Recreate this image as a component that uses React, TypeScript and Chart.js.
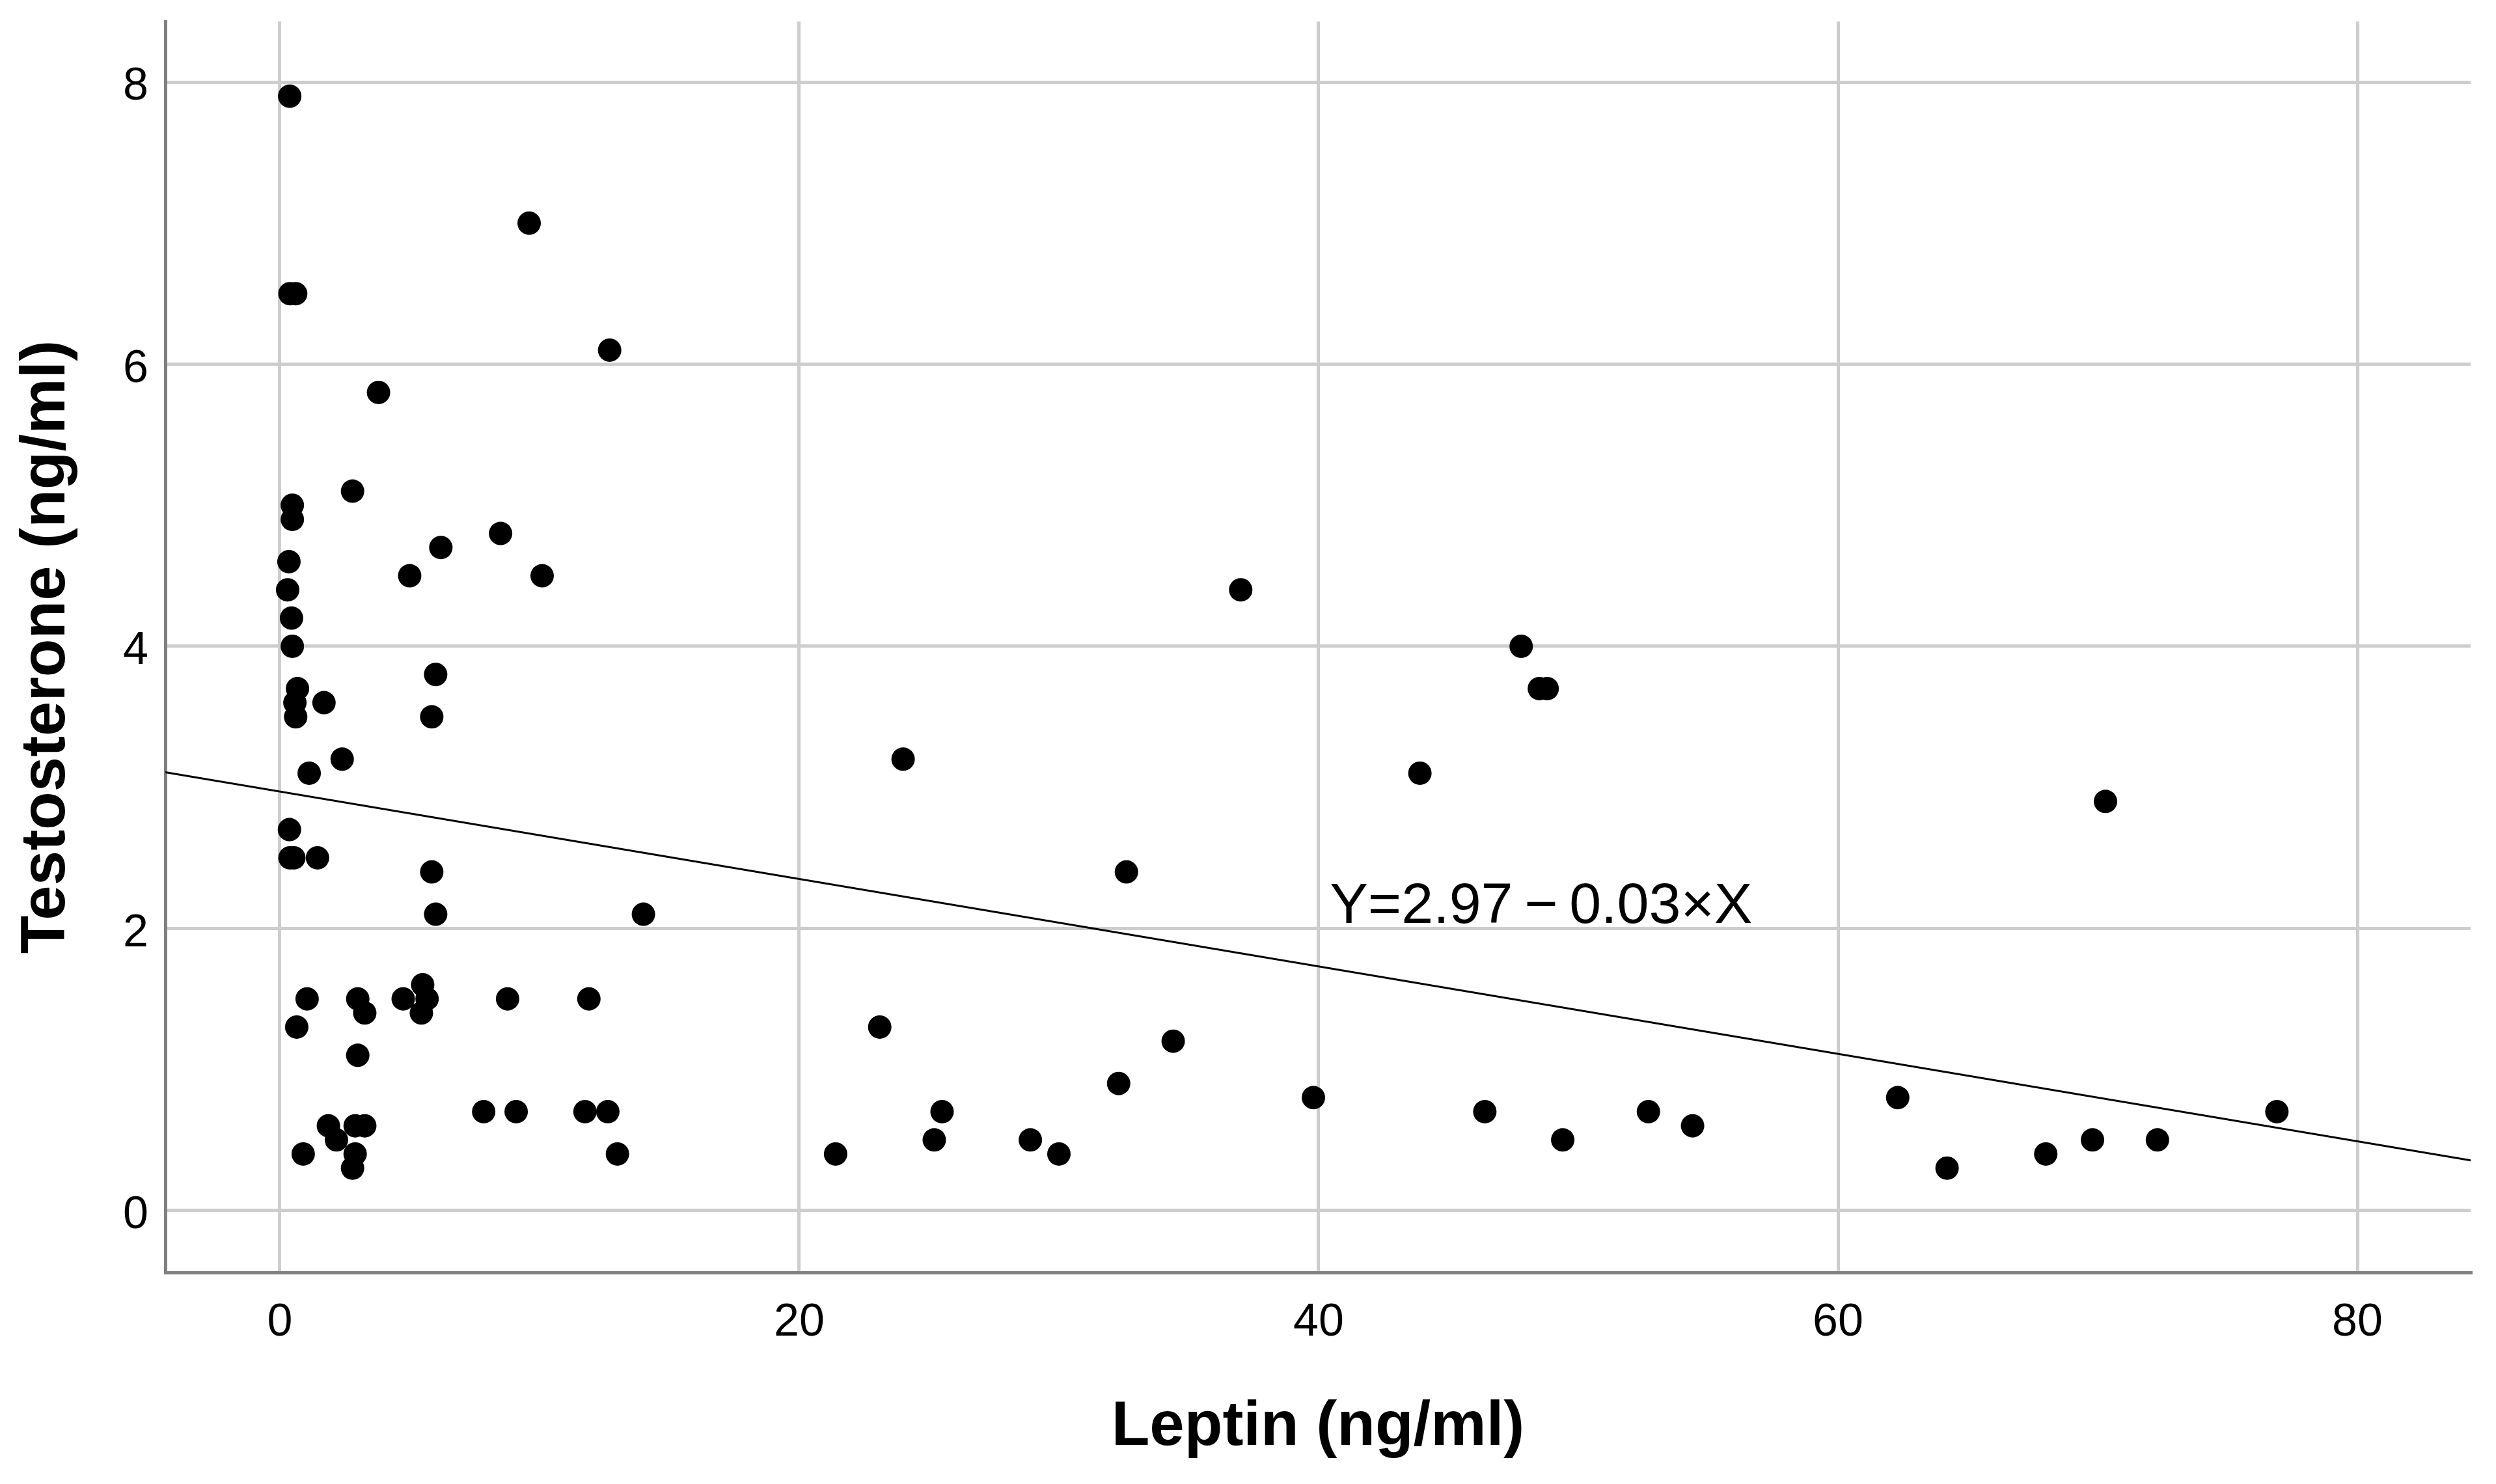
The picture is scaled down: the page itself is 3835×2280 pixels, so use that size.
import React, { useEffect, useRef } from 'react';
import { Chart, registerables } from 'chart.js';

Chart.register(...registerables);

// Leptin (ng/ml) values, x
const leptin: number[] = [
  0.38, 0.39, 0.61, 9.6, 12.7, 3.8, 2.8, 0.48, 0.48, 6.2,
  8.5, 5.0, 10.1, 0.35, 0.3, 0.45, 0.48, 6.0, 0.68, 0.58,
  0.61, 1.7, 5.85, 2.4, 1.13, 0.37, 0.39, 0.54, 1.45, 5.85,
  6.0, 14.0, 1.05, 0.65, 3.0, 3.27, 4.75, 5.5, 5.67, 5.45,
  8.77, 11.9, 3.0, 7.85, 9.1, 11.75, 12.63, 13.0, 1.87, 2.18,
  2.9, 3.27, 0.9, 2.9, 2.8,
  21.4, 23.1, 24.0, 25.2, 25.5, 28.9, 30.0, 32.3, 32.6, 34.4,
  37.0, 39.8, 43.9, 46.4, 47.8, 48.5, 48.8, 49.4, 52.7, 54.4,
  62.3, 64.2, 68.0, 69.8, 70.3, 72.3, 76.9,
];

// Testosterone (ng/ml) values, y
const testosterone: number[] = [
  7.9, 6.5, 6.5, 7.0, 6.1, 5.8, 5.1, 5.0, 4.9, 4.7,
  4.8, 4.5, 4.5, 4.6, 4.4, 4.2, 4.0, 3.8, 3.7, 3.6,
  3.5, 3.6, 3.5, 3.2, 3.1, 2.7, 2.5, 2.5, 2.5, 2.4,
  2.1, 2.1, 1.5, 1.3, 1.5, 1.4, 1.5, 1.6, 1.5, 1.4,
  1.5, 1.5, 1.1, 0.7, 0.7, 0.7, 0.7, 0.4, 0.6, 0.5,
  0.6, 0.6, 0.4, 0.4, 0.3,
  0.4, 1.3, 3.2, 0.5, 0.7, 0.5, 0.4, 0.9, 2.4, 1.2,
  4.4, 0.8, 3.1, 0.7, 4.0, 3.7, 3.7, 0.5, 0.7, 0.6,
  0.8, 0.3, 0.4, 0.5, 2.9, 0.5, 0.7,
];

const xTickValues: number[] = [0, 20, 40, 60, 80];
const yTickValues: number[] = [0, 2, 4, 6, 8];

const xAxisMin = -4.41;
const xAxisMax = 84.36;
const yAxisMin = -0.44;
const yAxisMax = 8.43;

const fitIntercept = 2.97;
const fitSlope = -0.031;

const xTitle = 'Leptin (ng/ml)';
const yTitle = 'Testosterone (ng/ml)';
const equationText = 'Y=2.97\u2009\u2212\u20090.03\u00d7X';
const equationAt = { x: 40.43, y: 2.04 };

const W = 3835;
const H = 2280;

const equationPlugin = {
  id: 'equationLabel',
  afterDatasetsDraw(chart: any) {
    const { ctx, scales } = chart;
    const px = scales.x.getPixelForValue(equationAt.x);
    const py = scales.y.getPixelForValue(equationAt.y);
    ctx.save();
    ctx.font = '88px "Liberation Sans", Arial, sans-serif';
    ctx.fillStyle = '#000000';
    ctx.textAlign = 'left';
    ctx.textBaseline = 'alphabetic';
    ctx.fillText(equationText, px, py);
    ctx.restore();
  },
};

const zeroPadding = (scale: any) => {
  scale.paddingTop = 0;
  scale.paddingBottom = 0;
  scale.paddingLeft = 0;
  scale.paddingRight = 0;
};

export default function App() {
  const canvasRef = useRef<HTMLCanvasElement | null>(null);

  useEffect(() => {
    const canvas = canvasRef.current;
    if (!canvas) return;

    const points = leptin.map((x, i) => ({ x, y: testosterone[i] }));
    const fitLine = [
      { x: xAxisMin, y: fitIntercept + fitSlope * xAxisMin },
      { x: xAxisMax, y: fitIntercept + fitSlope * xAxisMax },
    ];

    const chart = new Chart(canvas, {
      type: 'scatter',
      data: {
        datasets: [
          {
            type: 'line',
            data: fitLine,
            borderColor: '#000000',
            borderWidth: 3,
            pointRadius: 0,
            fill: false,
            order: 2,
          } as any,
          {
            type: 'scatter',
            data: points,
            backgroundColor: '#000000',
            borderColor: '#000000',
            borderWidth: 0,
            pointRadius: 18,
            pointHoverRadius: 18,
            order: 1,
          } as any,
        ],
      },
      options: {
        animation: false,
        responsive: false,
        devicePixelRatio: 1,
        events: [],
        layout: { autoPadding: false, padding: { left: 0, top: 33, right: 39, bottom: 0 } },
        plugins: {
          legend: { display: false },
          tooltip: { enabled: false },
        },
        scales: {
          x: {
            type: 'linear',
            min: xAxisMin,
            max: xAxisMax,
            afterBuildTicks: (scale: any) => {
              scale.ticks = xTickValues.map((v) => ({ value: v }));
            },
            afterFit: (scale: any) => {
              scale.height = 325;
              zeroPadding(scale);
            },
            grid: { color: '#cdcdcd', lineWidth: 5, drawTicks: false },
            border: { display: true, color: '#808080', width: 5 },
            ticks: {
              color: '#000000',
              padding: 36,
              font: { family: '"Liberation Sans", Arial, sans-serif', size: 70 },
              callback: (v: any) => String(v),
            },
            title: {
              display: true,
              text: xTitle,
              color: '#000000',
              font: { family: '"Liberation Sans", Arial, sans-serif', size: 96, weight: 'bold' },
              padding: { top: 0, bottom: 29 },
            },
          },
          y: {
            type: 'linear',
            min: yAxisMin,
            max: yAxisMax,
            afterBuildTicks: (scale: any) => {
              scale.ticks = yTickValues.map((v) => ({ value: v }));
            },
            afterFit: (scale: any) => {
              scale.width = 254;
              zeroPadding(scale);
            },
            grid: { color: '#cdcdcd', lineWidth: 5, drawTicks: false },
            border: { display: true, color: '#808080', width: 5 },
            ticks: {
              color: '#000000',
              padding: 26,
              labelOffset: 8,
              font: { family: '"Liberation Sans", Arial, sans-serif', size: 70 },
              callback: (v: any) => String(v),
            },
            title: {
              display: true,
              text: yTitle,
              color: '#000000',
              font: { family: '"Liberation Sans", Arial, sans-serif', size: 96, weight: 'bold' },
              padding: { top: 15, bottom: 0 },
            },
          },
        },
      },
      plugins: [equationPlugin],
    } as any);

    return () => {
      chart.destroy();
    };
  }, []);

  return (
    <div style={{ position: 'absolute', left: 0, top: 0, width: W, height: H, background: '#ffffff' }}>
      <canvas ref={canvasRef} width={W} height={H} style={{ display: 'block', width: W, height: H }} />
    </div>
  );
}
